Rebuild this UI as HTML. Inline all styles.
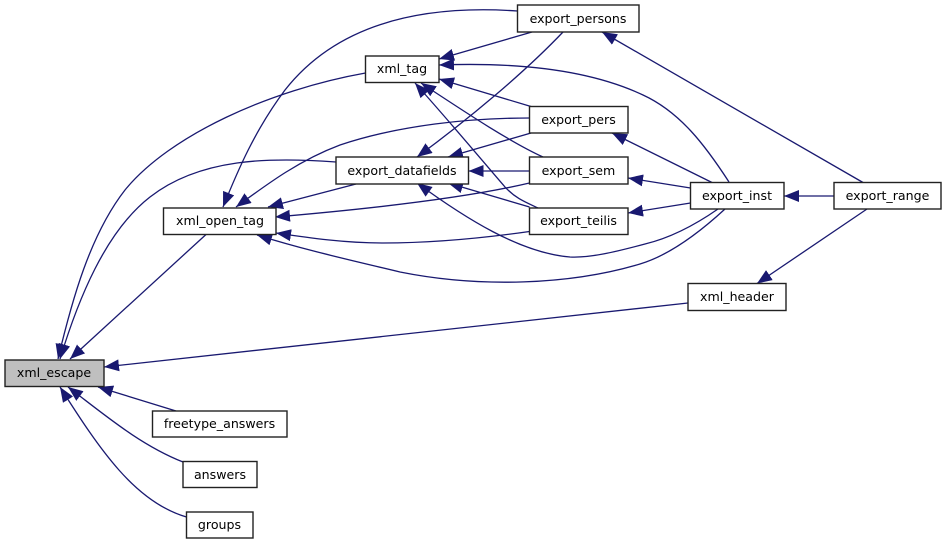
<!DOCTYPE html>
<html>
<head>
<meta charset="utf-8">
<style>
html,body{margin:0;padding:0;background:#fff;width:947px;height:544px;overflow:hidden}
svg{display:block}
text{font-family:"DejaVu Sans",sans-serif;font-size:12.6px;fill:#000;text-anchor:middle}
.n{fill:#fff;stroke:#222;stroke-width:1.4}
.e{fill:none;stroke:#191970;stroke-width:1.3;marker-end:url(#a)}
</style>
</head>
<body>
<svg width="947" height="544" viewBox="0 0 947 544" xmlns="http://www.w3.org/2000/svg">
<defs>
<marker id="a" markerUnits="userSpaceOnUse" markerWidth="18" markerHeight="14" refX="15" refY="6" orient="auto">
<polygon points="0,0 15,6 0,12" fill="#191970"/>
</marker>
</defs>

<path class="e" d="M365.5,73 C270,90 170,135 125,190 C90,235 72,300 58,359"/>
<path class="e" d="M336,162 C270,157 200,158 150,197 C105,232 78,300 60,359"/>
<path class="e" d="M206,234.5 L70,359"/>
<path class="e" d="M688,303 L104,367"/>
<path class="e" d="M176,411 L98,387"/>
<path class="e" d="M183,462 C140,445 105,415 68,387"/>
<path class="e" d="M186.5,517 C135,502 100,450 60,387"/>

<path class="e" d="M517.5,11 C430,5 340,20 285,90 C255,130 238,170 223,207"/>
<path class="e" d="M529.5,118 C470,118 400,125 340,145 C300,160 270,182 236,207"/>
<path class="e" d="M356,184 L268,207"/>
<path class="e" d="M529.5,183 C470,197 380,208 275,217"/>
<path class="e" d="M529.5,231.5 C470,240 420,243 383,243 C345,243 310,238 276,233"/>
<path class="e" d="M725,209 C700,232 670,255 640,264 C570,285 480,288 400,272 C350,260 305,250 257,235"/>

<path class="e" d="M532,32 L439,59"/>
<path class="e" d="M729,182 C705,145 680,112 643,95 C590,70 520,62 439,65"/>
<path class="e" d="M531,106.5 L439,79"/>
<path class="e" d="M543,157 C510,142 465,112 421,83"/>
<path class="e" d="M538,208 C525,202 515,198 505,187 C480,158 450,122 415,83"/>

<path class="e" d="M563,32 C525,72 470,118 417,157"/>
<path class="e" d="M531,133 L448,157"/>
<path class="e" d="M529.5,171 L468.5,171"/>
<path class="e" d="M529.5,207 L448,183"/>
<path class="e" d="M718,209 C695,225 670,238 645,244 C615,252 590,258 570,257 C520,253 465,218 417,183"/>

<path class="e" d="M712,182.5 L612,133"/>
<path class="e" d="M690.5,188 L628,178"/>
<path class="e" d="M690.5,203 L628,213"/>
<path class="e" d="M834,196 L784,196"/>
<path class="e" d="M863,182.5 L602,32"/>
<path class="e" d="M867,209 L757,283.5"/>

<rect x="5" y="360" width="99" height="26.5" fill="#bfbfbf" stroke="#222" stroke-width="1.4"/>
<text x="54" y="377">xml_escape</text>

<rect class="n" x="152.5" y="411" width="134.5" height="26"/>
<text x="219.5" y="428">freetype_answers</text>

<rect class="n" x="183" y="461.5" width="74" height="26"/>
<text x="220" y="479">answers</text>

<rect class="n" x="186.5" y="512" width="66.5" height="26"/>
<text x="219.5" y="529">groups</text>

<rect class="n" x="163.5" y="208" width="112.5" height="26.5"/>
<text x="220" y="225">xml_open_tag</text>

<rect class="n" x="365.5" y="56" width="73.5" height="26.5"/>
<text x="402" y="73">xml_tag</text>

<rect class="n" x="336" y="157" width="132.5" height="27"/>
<text x="402" y="175">export_datafields</text>

<rect class="n" x="517.5" y="5" width="121.5" height="27"/>
<text x="578" y="23">export_persons</text>

<rect class="n" x="529.5" y="106.5" width="98.5" height="26.5"/>
<text x="578.5" y="124">export_pers</text>

<rect class="n" x="529.5" y="157" width="98.5" height="27"/>
<text x="578.5" y="175">export_sem</text>

<rect class="n" x="529.5" y="208" width="98.5" height="26.5"/>
<text x="578.5" y="225">export_teilis</text>

<rect class="n" x="690.5" y="182.5" width="93.5" height="26.5"/>
<text x="737" y="200">export_inst</text>

<rect class="n" x="834" y="182.5" width="107" height="26.5"/>
<text x="887.5" y="200">export_range</text>

<rect class="n" x="688" y="283.5" width="98" height="27"/>
<text x="737" y="301">xml_header</text>
</svg>
</body>
</html>
